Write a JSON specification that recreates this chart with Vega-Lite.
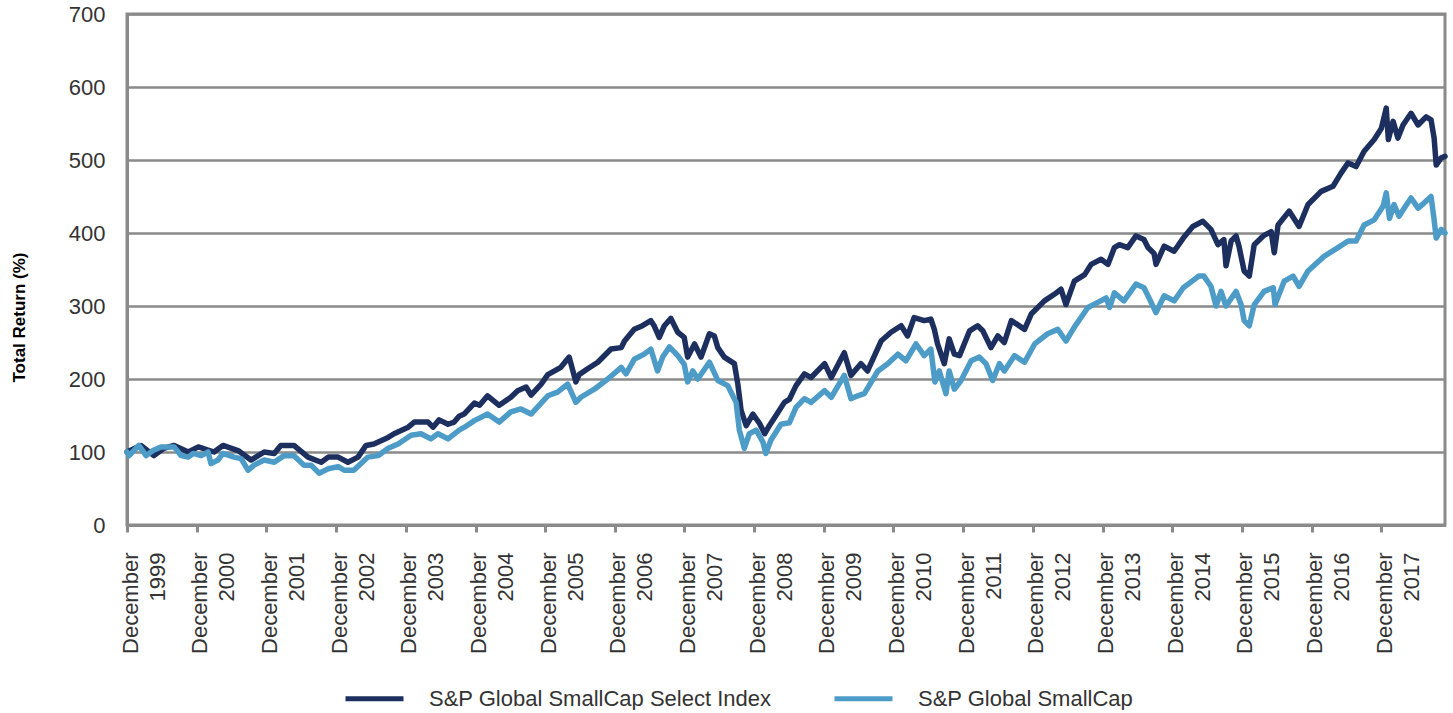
{
  "$schema": "https://vega.github.io/schema/vega-lite/v6.json",
  "width": 1318,
  "height": 511,
  "padding": {"left": 10, "top": 3, "right": 8, "bottom": 0},
  "autosize": {"type": "pad"},
  "background": "white",
  "config": {
    "view": {"stroke": "#8a8a8a", "strokeWidth": 3},
    "font": "Liberation Sans"
  },
  "data": {
    "format": {"parse": {"d": "utc:'%Y-%m-%d'"}},
    "values": [
      {"s":"S&P Global SmallCap Select Index","d":"1999-12-31","v":100},
      {"s":"S&P Global SmallCap Select Index","d":"2000-03-13","v":109},
      {"s":"S&P Global SmallCap Select Index","d":"2000-05-20","v":95},
      {"s":"S&P Global SmallCap Select Index","d":"2000-07-11","v":105},
      {"s":"S&P Global SmallCap Select Index","d":"2000-09-03","v":109},
      {"s":"S&P Global SmallCap Select Index","d":"2000-11-16","v":100},
      {"s":"S&P Global SmallCap Select Index","d":"2001-01-08","v":107},
      {"s":"S&P Global SmallCap Select Index","d":"2001-03-31","v":100},
      {"s":"S&P Global SmallCap Select Index","d":"2001-05-17","v":109},
      {"s":"S&P Global SmallCap Select Index","d":"2001-08-04","v":102},
      {"s":"S&P Global SmallCap Select Index","d":"2001-10-11","v":89},
      {"s":"S&P Global SmallCap Select Index","d":"2001-12-19","v":100},
      {"s":"S&P Global SmallCap Select Index","d":"2002-02-10","v":98},
      {"s":"S&P Global SmallCap Select Index","d":"2002-03-16","v":109},
      {"s":"S&P Global SmallCap Select Index","d":"2002-05-24","v":109},
      {"s":"S&P Global SmallCap Select Index","d":"2002-08-06","v":93},
      {"s":"S&P Global SmallCap Select Index","d":"2002-10-14","v":86},
      {"s":"S&P Global SmallCap Select Index","d":"2002-11-20","v":93},
      {"s":"S&P Global SmallCap Select Index","d":"2003-01-11","v":93},
      {"s":"S&P Global SmallCap Select Index","d":"2003-03-03","v":86},
      {"s":"S&P Global SmallCap Select Index","d":"2003-04-25","v":93},
      {"s":"S&P Global SmallCap Select Index","d":"2003-06-06","v":109},
      {"s":"S&P Global SmallCap Select Index","d":"2003-07-17","v":111},
      {"s":"S&P Global SmallCap Select Index","d":"2003-09-30","v":120},
      {"s":"S&P Global SmallCap Select Index","d":"2003-10-31","v":125},
      {"s":"S&P Global SmallCap Select Index","d":"2004-01-13","v":134},
      {"s":"S&P Global SmallCap Select Index","d":"2004-02-14","v":141},
      {"s":"S&P Global SmallCap Select Index","d":"2004-04-26","v":141},
      {"s":"S&P Global SmallCap Select Index","d":"2004-05-22","v":134},
      {"s":"S&P Global SmallCap Select Index","d":"2004-06-23","v":144},
      {"s":"S&P Global SmallCap Select Index","d":"2004-08-09","v":138},
      {"s":"S&P Global SmallCap Select Index","d":"2004-09-10","v":141},
      {"s":"S&P Global SmallCap Select Index","d":"2004-10-06","v":149},
      {"s":"S&P Global SmallCap Select Index","d":"2004-11-01","v":152},
      {"s":"S&P Global SmallCap Select Index","d":"2004-12-25","v":167},
      {"s":"S&P Global SmallCap Select Index","d":"2005-01-21","v":164},
      {"s":"S&P Global SmallCap Select Index","d":"2005-03-04","v":177},
      {"s":"S&P Global SmallCap Select Index","d":"2005-05-04","v":164},
      {"s":"S&P Global SmallCap Select Index","d":"2005-07-04","v":175},
      {"s":"S&P Global SmallCap Select Index","d":"2005-08-09","v":184},
      {"s":"S&P Global SmallCap Select Index","d":"2005-09-22","v":189},
      {"s":"S&P Global SmallCap Select Index","d":"2005-10-18","v":178},
      {"s":"S&P Global SmallCap Select Index","d":"2005-12-10","v":193},
      {"s":"S&P Global SmallCap Select Index","d":"2006-01-14","v":206},
      {"s":"S&P Global SmallCap Select Index","d":"2006-03-23","v":216},
      {"s":"S&P Global SmallCap Select Index","d":"2006-05-06","v":230},
      {"s":"S&P Global SmallCap Select Index","d":"2006-06-10","v":196},
      {"s":"S&P Global SmallCap Select Index","d":"2006-06-27","v":206},
      {"s":"S&P Global SmallCap Select Index","d":"2006-08-11","v":214},
      {"s":"S&P Global SmallCap Select Index","d":"2006-10-03","v":223},
      {"s":"S&P Global SmallCap Select Index","d":"2006-12-11","v":241},
      {"s":"S&P Global SmallCap Select Index","d":"2007-02-03","v":243},
      {"s":"S&P Global SmallCap Select Index","d":"2007-02-20","v":252},
      {"s":"S&P Global SmallCap Select Index","d":"2007-04-12","v":268},
      {"s":"S&P Global SmallCap Select Index","d":"2007-05-25","v":273},
      {"s":"S&P Global SmallCap Select Index","d":"2007-07-08","v":280},
      {"s":"S&P Global SmallCap Select Index","d":"2007-07-25","v":273},
      {"s":"S&P Global SmallCap Select Index","d":"2007-08-21","v":257},
      {"s":"S&P Global SmallCap Select Index","d":"2007-09-17","v":273},
      {"s":"S&P Global SmallCap Select Index","d":"2007-10-21","v":283},
      {"s":"S&P Global SmallCap Select Index","d":"2007-11-26","v":264},
      {"s":"S&P Global SmallCap Select Index","d":"2007-12-30","v":257},
      {"s":"S&P Global SmallCap Select Index","d":"2008-01-17","v":230},
      {"s":"S&P Global SmallCap Select Index","d":"2008-02-22","v":248},
      {"s":"S&P Global SmallCap Select Index","d":"2008-03-27","v":230},
      {"s":"S&P Global SmallCap Select Index","d":"2008-05-10","v":262},
      {"s":"S&P Global SmallCap Select Index","d":"2008-06-05","v":259},
      {"s":"S&P Global SmallCap Select Index","d":"2008-06-23","v":243},
      {"s":"S&P Global SmallCap Select Index","d":"2008-07-27","v":230},
      {"s":"S&P Global SmallCap Select Index","d":"2008-09-18","v":221},
      {"s":"S&P Global SmallCap Select Index","d":"2008-10-06","v":193},
      {"s":"S&P Global SmallCap Select Index","d":"2008-10-23","v":157},
      {"s":"S&P Global SmallCap Select Index","d":"2008-11-19","v":136},
      {"s":"S&P Global SmallCap Select Index","d":"2008-12-24","v":152},
      {"s":"S&P Global SmallCap Select Index","d":"2009-01-28","v":139},
      {"s":"S&P Global SmallCap Select Index","d":"2009-02-24","v":125},
      {"s":"S&P Global SmallCap Select Index","d":"2009-03-20","v":136},
      {"s":"S&P Global SmallCap Select Index","d":"2009-04-24","v":150},
      {"s":"S&P Global SmallCap Select Index","d":"2009-06-07","v":168},
      {"s":"S&P Global SmallCap Select Index","d":"2009-07-03","v":172},
      {"s":"S&P Global SmallCap Select Index","d":"2009-08-07","v":191},
      {"s":"S&P Global SmallCap Select Index","d":"2009-09-20","v":207},
      {"s":"S&P Global SmallCap Select Index","d":"2009-10-25","v":202},
      {"s":"S&P Global SmallCap Select Index","d":"2010-01-04","v":221},
      {"s":"S&P Global SmallCap Select Index","d":"2010-02-08","v":202},
      {"s":"S&P Global SmallCap Select Index","d":"2010-04-17","v":236},
      {"s":"S&P Global SmallCap Select Index","d":"2010-05-22","v":205},
      {"s":"S&P Global SmallCap Select Index","d":"2010-07-13","v":221},
      {"s":"S&P Global SmallCap Select Index","d":"2010-08-17","v":211},
      {"s":"S&P Global SmallCap Select Index","d":"2010-10-27","v":252},
      {"s":"S&P Global SmallCap Select Index","d":"2010-12-18","v":264},
      {"s":"S&P Global SmallCap Select Index","d":"2011-02-09","v":273},
      {"s":"S&P Global SmallCap Select Index","d":"2011-03-15","v":259},
      {"s":"S&P Global SmallCap Select Index","d":"2011-04-18","v":284},
      {"s":"S&P Global SmallCap Select Index","d":"2011-06-10","v":280},
      {"s":"S&P Global SmallCap Select Index","d":"2011-07-15","v":282},
      {"s":"S&P Global SmallCap Select Index","d":"2011-08-02","v":268},
      {"s":"S&P Global SmallCap Select Index","d":"2011-08-19","v":248},
      {"s":"S&P Global SmallCap Select Index","d":"2011-09-23","v":221},
      {"s":"S&P Global SmallCap Select Index","d":"2011-10-19","v":255},
      {"s":"S&P Global SmallCap Select Index","d":"2011-11-15","v":234},
      {"s":"S&P Global SmallCap Select Index","d":"2011-12-12","v":232},
      {"s":"S&P Global SmallCap Select Index","d":"2012-02-03","v":266},
      {"s":"S&P Global SmallCap Select Index","d":"2012-03-16","v":273},
      {"s":"S&P Global SmallCap Select Index","d":"2012-04-12","v":266},
      {"s":"S&P Global SmallCap Select Index","d":"2012-05-25","v":243},
      {"s":"S&P Global SmallCap Select Index","d":"2012-06-30","v":259},
      {"s":"S&P Global SmallCap Select Index","d":"2012-08-03","v":250},
      {"s":"S&P Global SmallCap Select Index","d":"2012-09-09","v":280},
      {"s":"S&P Global SmallCap Select Index","d":"2012-11-17","v":268},
      {"s":"S&P Global SmallCap Select Index","d":"2012-12-22","v":289},
      {"s":"S&P Global SmallCap Select Index","d":"2013-03-01","v":307},
      {"s":"S&P Global SmallCap Select Index","d":"2013-04-22","v":316},
      {"s":"S&P Global SmallCap Select Index","d":"2013-05-27","v":323},
      {"s":"S&P Global SmallCap Select Index","d":"2013-06-22","v":302},
      {"s":"S&P Global SmallCap Select Index","d":"2013-08-05","v":334},
      {"s":"S&P Global SmallCap Select Index","d":"2013-09-28","v":343},
      {"s":"S&P Global SmallCap Select Index","d":"2013-11-01","v":357},
      {"s":"S&P Global SmallCap Select Index","d":"2013-12-23","v":364},
      {"s":"S&P Global SmallCap Select Index","d":"2014-01-28","v":357},
      {"s":"S&P Global SmallCap Select Index","d":"2014-03-03","v":380},
      {"s":"S&P Global SmallCap Select Index","d":"2014-03-29","v":384},
      {"s":"S&P Global SmallCap Select Index","d":"2014-05-12","v":380},
      {"s":"S&P Global SmallCap Select Index","d":"2014-06-24","v":396},
      {"s":"S&P Global SmallCap Select Index","d":"2014-08-05","v":391},
      {"s":"S&P Global SmallCap Select Index","d":"2014-08-26","v":380},
      {"s":"S&P Global SmallCap Select Index","d":"2014-09-27","v":372},
      {"s":"S&P Global SmallCap Select Index","d":"2014-10-07","v":357},
      {"s":"S&P Global SmallCap Select Index","d":"2014-11-19","v":382},
      {"s":"S&P Global SmallCap Select Index","d":"2015-01-10","v":375},
      {"s":"S&P Global SmallCap Select Index","d":"2015-02-27","v":393},
      {"s":"S&P Global SmallCap Select Index","d":"2015-04-18","v":409},
      {"s":"S&P Global SmallCap Select Index","d":"2015-06-10","v":416},
      {"s":"S&P Global SmallCap Select Index","d":"2015-07-22","v":405},
      {"s":"S&P Global SmallCap Select Index","d":"2015-08-28","v":384},
      {"s":"S&P Global SmallCap Select Index","d":"2015-09-28","v":391},
      {"s":"S&P Global SmallCap Select Index","d":"2015-10-09","v":355},
      {"s":"S&P Global SmallCap Select Index","d":"2015-11-05","v":389},
      {"s":"S&P Global SmallCap Select Index","d":"2015-12-01","v":396},
      {"s":"S&P Global SmallCap Select Index","d":"2015-12-16","v":382},
      {"s":"S&P Global SmallCap Select Index","d":"2016-01-12","v":348},
      {"s":"S&P Global SmallCap Select Index","d":"2016-02-08","v":341},
      {"s":"S&P Global SmallCap Select Index","d":"2016-03-05","v":384},
      {"s":"S&P Global SmallCap Select Index","d":"2016-04-21","v":396},
      {"s":"S&P Global SmallCap Select Index","d":"2016-06-02","v":402},
      {"s":"S&P Global SmallCap Select Index","d":"2016-06-18","v":373},
      {"s":"S&P Global SmallCap Select Index","d":"2016-07-08","v":411},
      {"s":"S&P Global SmallCap Select Index","d":"2016-09-04","v":430},
      {"s":"S&P Global SmallCap Select Index","d":"2016-10-26","v":409},
      {"s":"S&P Global SmallCap Select Index","d":"2016-12-12","v":439},
      {"s":"S&P Global SmallCap Select Index","d":"2017-02-19","v":457},
      {"s":"S&P Global SmallCap Select Index","d":"2017-04-22","v":464},
      {"s":"S&P Global SmallCap Select Index","d":"2017-06-03","v":482},
      {"s":"S&P Global SmallCap Select Index","d":"2017-07-10","v":496},
      {"s":"S&P Global SmallCap Select Index","d":"2017-08-21","v":491},
      {"s":"S&P Global SmallCap Select Index","d":"2017-10-02","v":512},
      {"s":"S&P Global SmallCap Select Index","d":"2017-11-24","v":528},
      {"s":"S&P Global SmallCap Select Index","d":"2017-12-31","v":543},
      {"s":"S&P Global SmallCap Select Index","d":"2018-01-26","v":571},
      {"s":"S&P Global SmallCap Select Index","d":"2018-02-06","v":528},
      {"s":"S&P Global SmallCap Select Index","d":"2018-03-03","v":553},
      {"s":"S&P Global SmallCap Select Index","d":"2018-03-28","v":530},
      {"s":"S&P Global SmallCap Select Index","d":"2018-04-24","v":548},
      {"s":"S&P Global SmallCap Select Index","d":"2018-06-05","v":564},
      {"s":"S&P Global SmallCap Select Index","d":"2018-07-12","v":548},
      {"s":"S&P Global SmallCap Select Index","d":"2018-08-23","v":559},
      {"s":"S&P Global SmallCap Select Index","d":"2018-09-18","v":555},
      {"s":"S&P Global SmallCap Select Index","d":"2018-10-04","v":530},
      {"s":"S&P Global SmallCap Select Index","d":"2018-10-15","v":493},
      {"s":"S&P Global SmallCap Select Index","d":"2018-11-10","v":503},
      {"s":"S&P Global SmallCap Select Index","d":"2018-11-30","v":505},
      {"s":"S&P Global SmallCap","d":"1999-12-31","v":100},
      {"s":"S&P Global SmallCap","d":"2000-01-11","v":95},
      {"s":"S&P Global SmallCap","d":"2000-03-02","v":109},
      {"s":"S&P Global SmallCap","d":"2000-04-09","v":95},
      {"s":"S&P Global SmallCap","d":"2000-05-15","v":102},
      {"s":"S&P Global SmallCap","d":"2000-06-26","v":107},
      {"s":"S&P Global SmallCap","d":"2000-09-03","v":107},
      {"s":"S&P Global SmallCap","d":"2000-10-10","v":95},
      {"s":"S&P Global SmallCap","d":"2000-11-16","v":93},
      {"s":"S&P Global SmallCap","d":"2000-12-12","v":98},
      {"s":"S&P Global SmallCap","d":"2001-01-23","v":95},
      {"s":"S&P Global SmallCap","d":"2001-02-28","v":100},
      {"s":"S&P Global SmallCap","d":"2001-03-15","v":84},
      {"s":"S&P Global SmallCap","d":"2001-04-21","v":89},
      {"s":"S&P Global SmallCap","d":"2001-05-17","v":98},
      {"s":"S&P Global SmallCap","d":"2001-07-14","v":93},
      {"s":"S&P Global SmallCap","d":"2001-08-20","v":91},
      {"s":"S&P Global SmallCap","d":"2001-09-26","v":75},
      {"s":"S&P Global SmallCap","d":"2001-10-27","v":82},
      {"s":"S&P Global SmallCap","d":"2001-12-19","v":89},
      {"s":"S&P Global SmallCap","d":"2002-02-10","v":86},
      {"s":"S&P Global SmallCap","d":"2002-04-02","v":95},
      {"s":"S&P Global SmallCap","d":"2002-05-24","v":95},
      {"s":"S&P Global SmallCap","d":"2002-07-16","v":82},
      {"s":"S&P Global SmallCap","d":"2002-08-22","v":82},
      {"s":"S&P Global SmallCap","d":"2002-10-03","v":71},
      {"s":"S&P Global SmallCap","d":"2002-11-20","v":77},
      {"s":"S&P Global SmallCap","d":"2003-01-11","v":80},
      {"s":"S&P Global SmallCap","d":"2003-02-12","v":75},
      {"s":"S&P Global SmallCap","d":"2003-04-03","v":75},
      {"s":"S&P Global SmallCap","d":"2003-06-16","v":93},
      {"s":"S&P Global SmallCap","d":"2003-08-08","v":95},
      {"s":"S&P Global SmallCap","d":"2003-09-30","v":105},
      {"s":"S&P Global SmallCap","d":"2003-11-21","v":111},
      {"s":"S&P Global SmallCap","d":"2004-01-28","v":123},
      {"s":"S&P Global SmallCap","d":"2004-03-20","v":125},
      {"s":"S&P Global SmallCap","d":"2004-05-11","v":118},
      {"s":"S&P Global SmallCap","d":"2004-06-17","v":125},
      {"s":"S&P Global SmallCap","d":"2004-08-09","v":118},
      {"s":"S&P Global SmallCap","d":"2004-10-06","v":130},
      {"s":"S&P Global SmallCap","d":"2004-11-03","v":134},
      {"s":"S&P Global SmallCap","d":"2004-12-25","v":143},
      {"s":"S&P Global SmallCap","d":"2005-03-04","v":152},
      {"s":"S&P Global SmallCap","d":"2005-05-04","v":141},
      {"s":"S&P Global SmallCap","d":"2005-07-04","v":155},
      {"s":"S&P Global SmallCap","d":"2005-08-26","v":159},
      {"s":"S&P Global SmallCap","d":"2005-10-18","v":152},
      {"s":"S&P Global SmallCap","d":"2006-01-14","v":177},
      {"s":"S&P Global SmallCap","d":"2006-03-06","v":182},
      {"s":"S&P Global SmallCap","d":"2006-04-28","v":193},
      {"s":"S&P Global SmallCap","d":"2006-06-10","v":168},
      {"s":"S&P Global SmallCap","d":"2006-07-06","v":175},
      {"s":"S&P Global SmallCap","d":"2006-09-15","v":186},
      {"s":"S&P Global SmallCap","d":"2006-11-24","v":200},
      {"s":"S&P Global SmallCap","d":"2007-02-03","v":216},
      {"s":"S&P Global SmallCap","d":"2007-02-28","v":207},
      {"s":"S&P Global SmallCap","d":"2007-04-12","v":227},
      {"s":"S&P Global SmallCap","d":"2007-06-03","v":234},
      {"s":"S&P Global SmallCap","d":"2007-07-08","v":241},
      {"s":"S&P Global SmallCap","d":"2007-08-12","v":211},
      {"s":"S&P Global SmallCap","d":"2007-09-08","v":230},
      {"s":"S&P Global SmallCap","d":"2007-10-13","v":244},
      {"s":"S&P Global SmallCap","d":"2007-11-26","v":232},
      {"s":"S&P Global SmallCap","d":"2007-12-30","v":220},
      {"s":"S&P Global SmallCap","d":"2008-01-17","v":196},
      {"s":"S&P Global SmallCap","d":"2008-02-13","v":211},
      {"s":"S&P Global SmallCap","d":"2008-03-10","v":200},
      {"s":"S&P Global SmallCap","d":"2008-05-10","v":223},
      {"s":"S&P Global SmallCap","d":"2008-06-23","v":198},
      {"s":"S&P Global SmallCap","d":"2008-08-14","v":191},
      {"s":"S&P Global SmallCap","d":"2008-09-27","v":168},
      {"s":"S&P Global SmallCap","d":"2008-10-14","v":130},
      {"s":"S&P Global SmallCap","d":"2008-11-09","v":105},
      {"s":"S&P Global SmallCap","d":"2008-12-05","v":125},
      {"s":"S&P Global SmallCap","d":"2009-01-10","v":130},
      {"s":"S&P Global SmallCap","d":"2009-02-14","v":114},
      {"s":"S&P Global SmallCap","d":"2009-03-02","v":98},
      {"s":"S&P Global SmallCap","d":"2009-03-28","v":116},
      {"s":"S&P Global SmallCap","d":"2009-05-20","v":138},
      {"s":"S&P Global SmallCap","d":"2009-07-03","v":140},
      {"s":"S&P Global SmallCap","d":"2009-08-07","v":161},
      {"s":"S&P Global SmallCap","d":"2009-09-20","v":173},
      {"s":"S&P Global SmallCap","d":"2009-10-25","v":168},
      {"s":"S&P Global SmallCap","d":"2010-01-04","v":184},
      {"s":"S&P Global SmallCap","d":"2010-02-08","v":175},
      {"s":"S&P Global SmallCap","d":"2010-04-17","v":205},
      {"s":"S&P Global SmallCap","d":"2010-05-22","v":173},
      {"s":"S&P Global SmallCap","d":"2010-06-26","v":177},
      {"s":"S&P Global SmallCap","d":"2010-07-31","v":180},
      {"s":"S&P Global SmallCap","d":"2010-10-10","v":211},
      {"s":"S&P Global SmallCap","d":"2010-12-01","v":221},
      {"s":"S&P Global SmallCap","d":"2011-01-23","v":234},
      {"s":"S&P Global SmallCap","d":"2011-03-06","v":225},
      {"s":"S&P Global SmallCap","d":"2011-04-28","v":248},
      {"s":"S&P Global SmallCap","d":"2011-06-10","v":232},
      {"s":"S&P Global SmallCap","d":"2011-07-15","v":241},
      {"s":"S&P Global SmallCap","d":"2011-08-05","v":196},
      {"s":"S&P Global SmallCap","d":"2011-08-28","v":211},
      {"s":"S&P Global SmallCap","d":"2011-10-02","v":180},
      {"s":"S&P Global SmallCap","d":"2011-10-19","v":211},
      {"s":"S&P Global SmallCap","d":"2011-11-15","v":186},
      {"s":"S&P Global SmallCap","d":"2011-12-20","v":198},
      {"s":"S&P Global SmallCap","d":"2012-02-11","v":225},
      {"s":"S&P Global SmallCap","d":"2012-03-25","v":230},
      {"s":"S&P Global SmallCap","d":"2012-04-29","v":221},
      {"s":"S&P Global SmallCap","d":"2012-06-03","v":198},
      {"s":"S&P Global SmallCap","d":"2012-07-08","v":221},
      {"s":"S&P Global SmallCap","d":"2012-08-03","v":211},
      {"s":"S&P Global SmallCap","d":"2012-09-25","v":232},
      {"s":"S&P Global SmallCap","d":"2012-11-17","v":223},
      {"s":"S&P Global SmallCap","d":"2013-01-09","v":248},
      {"s":"S&P Global SmallCap","d":"2013-03-18","v":262},
      {"s":"S&P Global SmallCap","d":"2013-05-10","v":268},
      {"s":"S&P Global SmallCap","d":"2013-06-22","v":252},
      {"s":"S&P Global SmallCap","d":"2013-08-05","v":271},
      {"s":"S&P Global SmallCap","d":"2013-10-15","v":298},
      {"s":"S&P Global SmallCap","d":"2013-12-06","v":305},
      {"s":"S&P Global SmallCap","d":"2014-01-19","v":311},
      {"s":"S&P Global SmallCap","d":"2014-02-06","v":298},
      {"s":"S&P Global SmallCap","d":"2014-03-03","v":318},
      {"s":"S&P Global SmallCap","d":"2014-04-22","v":307},
      {"s":"S&P Global SmallCap","d":"2014-06-24","v":330},
      {"s":"S&P Global SmallCap","d":"2014-08-05","v":325},
      {"s":"S&P Global SmallCap","d":"2014-08-26","v":314},
      {"s":"S&P Global SmallCap","d":"2014-10-07","v":291},
      {"s":"S&P Global SmallCap","d":"2014-11-19","v":314},
      {"s":"S&P Global SmallCap","d":"2015-01-10","v":307},
      {"s":"S&P Global SmallCap","d":"2015-02-27","v":325},
      {"s":"S&P Global SmallCap","d":"2015-04-09","v":333},
      {"s":"S&P Global SmallCap","d":"2015-05-20","v":341},
      {"s":"S&P Global SmallCap","d":"2015-06-15","v":341},
      {"s":"S&P Global SmallCap","d":"2015-07-22","v":327},
      {"s":"S&P Global SmallCap","d":"2015-08-18","v":300},
      {"s":"S&P Global SmallCap","d":"2015-09-13","v":320},
      {"s":"S&P Global SmallCap","d":"2015-10-09","v":300},
      {"s":"S&P Global SmallCap","d":"2015-12-01","v":320},
      {"s":"S&P Global SmallCap","d":"2015-12-27","v":302},
      {"s":"S&P Global SmallCap","d":"2016-01-12","v":280},
      {"s":"S&P Global SmallCap","d":"2016-02-08","v":273},
      {"s":"S&P Global SmallCap","d":"2016-03-05","v":302},
      {"s":"S&P Global SmallCap","d":"2016-04-26","v":320},
      {"s":"S&P Global SmallCap","d":"2016-06-13","v":325},
      {"s":"S&P Global SmallCap","d":"2016-06-22","v":302},
      {"s":"S&P Global SmallCap","d":"2016-08-09","v":334},
      {"s":"S&P Global SmallCap","d":"2016-09-25","v":341},
      {"s":"S&P Global SmallCap","d":"2016-10-26","v":327},
      {"s":"S&P Global SmallCap","d":"2016-12-12","v":348},
      {"s":"S&P Global SmallCap","d":"2017-03-06","v":368},
      {"s":"S&P Global SmallCap","d":"2017-05-18","v":380},
      {"s":"S&P Global SmallCap","d":"2017-07-10","v":389},
      {"s":"S&P Global SmallCap","d":"2017-08-21","v":389},
      {"s":"S&P Global SmallCap","d":"2017-10-02","v":411},
      {"s":"S&P Global SmallCap","d":"2017-11-24","v":418},
      {"s":"S&P Global SmallCap","d":"2018-01-10","v":437},
      {"s":"S&P Global SmallCap","d":"2018-01-26","v":455},
      {"s":"S&P Global SmallCap","d":"2018-02-12","v":420},
      {"s":"S&P Global SmallCap","d":"2018-03-08","v":439},
      {"s":"S&P Global SmallCap","d":"2018-04-03","v":423},
      {"s":"S&P Global SmallCap","d":"2018-04-30","v":434},
      {"s":"S&P Global SmallCap","d":"2018-06-05","v":448},
      {"s":"S&P Global SmallCap","d":"2018-07-12","v":434},
      {"s":"S&P Global SmallCap","d":"2018-08-12","v":441},
      {"s":"S&P Global SmallCap","d":"2018-09-18","v":450},
      {"s":"S&P Global SmallCap","d":"2018-10-04","v":418},
      {"s":"S&P Global SmallCap","d":"2018-10-15","v":393},
      {"s":"S&P Global SmallCap","d":"2018-11-10","v":405},
      {"s":"S&P Global SmallCap","d":"2018-11-30","v":400}
    ]
  },
  "mark": {"type": "line", "strokeWidth": 5.5, "strokeJoin": "round", "strokeCap": "round"},
  "encoding": {
    "x": {
      "field": "d",
      "type": "temporal",
      "scale": {
        "type": "utc",
        "domain": [
          {"year": 1999, "month": 12, "date": 31, "utc": true},
          {"year": 2018, "month": 11, "date": 30, "utc": true}
        ]
      },
      "axis": {
        "title": null,
        "grid": false,
        "values": [
          {"year": 1999, "month": 12, "date": 31, "utc": true},
          {"year": 2000, "month": 12, "date": 31, "utc": true},
          {"year": 2001, "month": 12, "date": 31, "utc": true},
          {"year": 2002, "month": 12, "date": 31, "utc": true},
          {"year": 2003, "month": 12, "date": 31, "utc": true},
          {"year": 2004, "month": 12, "date": 31, "utc": true},
          {"year": 2005, "month": 12, "date": 31, "utc": true},
          {"year": 2006, "month": 12, "date": 31, "utc": true},
          {"year": 2007, "month": 12, "date": 31, "utc": true},
          {"year": 2008, "month": 12, "date": 31, "utc": true},
          {"year": 2009, "month": 12, "date": 31, "utc": true},
          {"year": 2010, "month": 12, "date": 31, "utc": true},
          {"year": 2011, "month": 12, "date": 31, "utc": true},
          {"year": 2012, "month": 12, "date": 31, "utc": true},
          {"year": 2013, "month": 12, "date": 31, "utc": true},
          {"year": 2014, "month": 12, "date": 31, "utc": true},
          {"year": 2015, "month": 12, "date": 31, "utc": true},
          {"year": 2016, "month": 12, "date": 31, "utc": true},
          {"year": 2017, "month": 12, "date": 31, "utc": true}
        ],
        "labelExpr": "['December', utcFormat(datum.value, '%Y')]",
        "labelAngle": -90,
        "labelAlign": "right",
        "labelBaseline": "top",
        "labelOffset": -7,
        "labelPadding": 20,
        "labelLineHeight": 27,
        "labelFontSize": 22,
        "labelColor": "#333333",
        "labelOverlap": false,
        "labelFlush": false,
        "tickSize": 7,
        "tickWidth": 3,
        "tickColor": "#8a8a8a",
        "domainColor": "#8a8a8a",
        "domainWidth": 3
      }
    },
    "y": {
      "field": "v",
      "type": "quantitative",
      "scale": {"domain": [0, 700], "nice": false},
      "axis": {
        "title": "Total Return (%)",
        "titleFontSize": 17,
        "titleFontWeight": "bold",
        "titleColor": "#000000",
        "titleX": -99,
        "titleY": 303,
        "values": [0, 100, 200, 300, 400, 500, 600, 700],
        "labelFontSize": 22,
        "labelColor": "#333333",
        "labelPadding": 22,
        "ticks": false,
        "gridColor": "#8a8a8a",
        "gridWidth": 2.5,
        "gridOpacity": 1,
        "domainColor": "#8a8a8a",
        "domainWidth": 3
      }
    },
    "color": {
      "field": "s",
      "type": "nominal",
      "scale": {
        "domain": ["S&P Global SmallCap Select Index", "S&P Global SmallCap"],
        "range": ["#1c2f5e", "#4d9cc8"]
      },
      "legend": {
        "title": null,
        "orient": "none",
        "legendX": 216,
        "legendY": 653,
        "direction": "horizontal",
        "symbolType": "stroke",
        "symbolSize": 3364,
        "symbolStrokeWidth": 5,
        "labelFontSize": 22,
        "labelColor": "#333333",
        "labelOffset": 23,
        "labelLimit": 600,
        "columnPadding": 52,
        "padding": 0
      }
    }
  }
}
